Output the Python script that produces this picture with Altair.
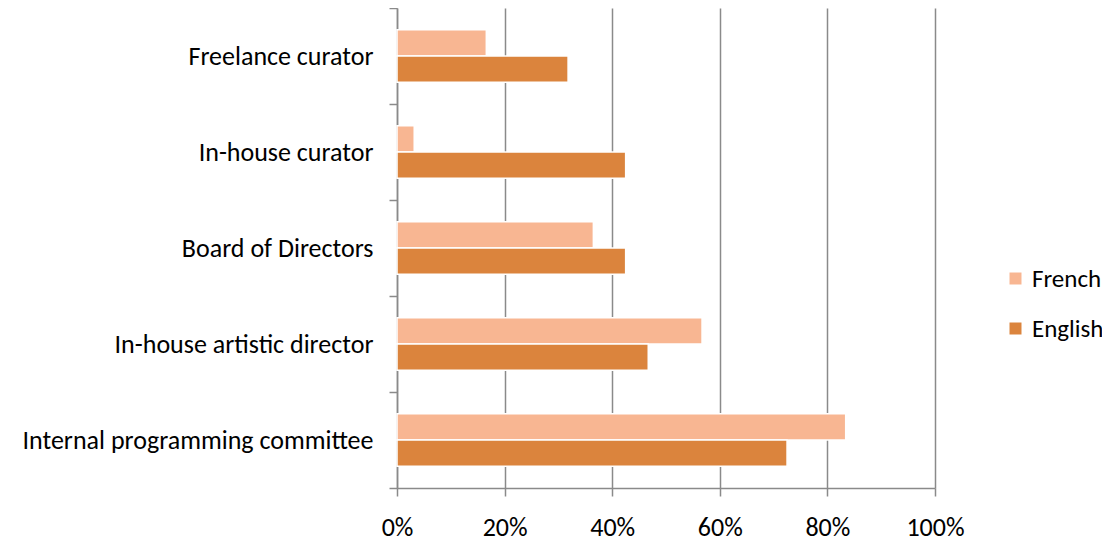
import altair as alt
import pandas as pd

categories = [
    "Freelance curator",
    "In-house curator",
    "Board of Directors",
    "In-house artistic director",
    "Internal programming committee",
]
series = ["French", "English"]
french = [16.6, 3.2, 36.5, 56.7, 83.4]
english = [31.8, 42.5, 42.5, 46.7, 72.5]
colors = ["#F8B692", "#DB843D"]
x_ticks = [0, 0.2, 0.4, 0.6, 0.8, 1.0]

rows = []
for c, f, e in zip(categories, french, english):
    rows.append({"category": c, "language": "French", "share": f / 100})
    rows.append({"category": c, "language": "English", "share": e / 100})
df = pd.DataFrame(rows)

FONT = "Calibri, Carlito, Lato, sans-serif"
GREY = "#8a8a8a"
FS = 26

chart = (
    alt.Chart(df)
    .mark_bar(stroke="white", strokeWidth=1.5)
    .encode(
        x=alt.X(
            "share:Q",
            scale=alt.Scale(domain=[0, 1], nice=False),
            axis=alt.Axis(
                format="%",
                values=x_ticks,
                title=None,
                grid=True,
                gridColor=GREY,
                gridWidth=1.5,
                tickColor=GREY,
                tickWidth=1.5,
                domainColor=GREY,
                domainWidth=1.5,
                tickSize=8,
                labelPadding=18,
                labelFlush=False,
                labelFontSize=FS,
                labelFont=FONT,
                labelColor="black",
            ),
        ),
        y=alt.Y(
            "category:N",
            sort=categories,
            scale=alt.Scale(paddingInner=0, paddingOuter=0),
            axis=alt.Axis(
                title=None,
                tickBand="extent",
                tickColor=GREY,
                tickWidth=1.5,
                domainColor=GREY,
                domainWidth=1.5,
                tickSize=8,
                labelPadding=16,
                labelFontSize=FS,
                labelFont=FONT,
                labelColor="black",
                labelLimit=500,
            ),
        ),
        yOffset=alt.YOffset(
            "language:N",
            sort=series,
            scale=alt.Scale(paddingInner=0, paddingOuter=0.82),
        ),
        color=alt.Color(
            "language:N",
            sort=series,
            scale=alt.Scale(domain=series, range=colors),
            legend=alt.Legend(
                title=None,
                orient="none",
                legendX=606,
                legendY=258,
                symbolType="square",
                symbolSize=144,
                symbolStrokeWidth=0,
                labelFontSize=25,
                labelFont=FONT,
                labelColor="black",
                rowPadding=24,
                padding=0,
            ),
        ),
    )
    .properties(
        width=538,
        height=480,
        autosize=alt.AutoSizeParams(type="none"),
        padding={"left": 389, "top": 0, "right": 167, "bottom": 56},
    )
    .configure_view(stroke=None)
)

chart.save("out.html", embed_options={"renderer": "svg", "actions": False})
